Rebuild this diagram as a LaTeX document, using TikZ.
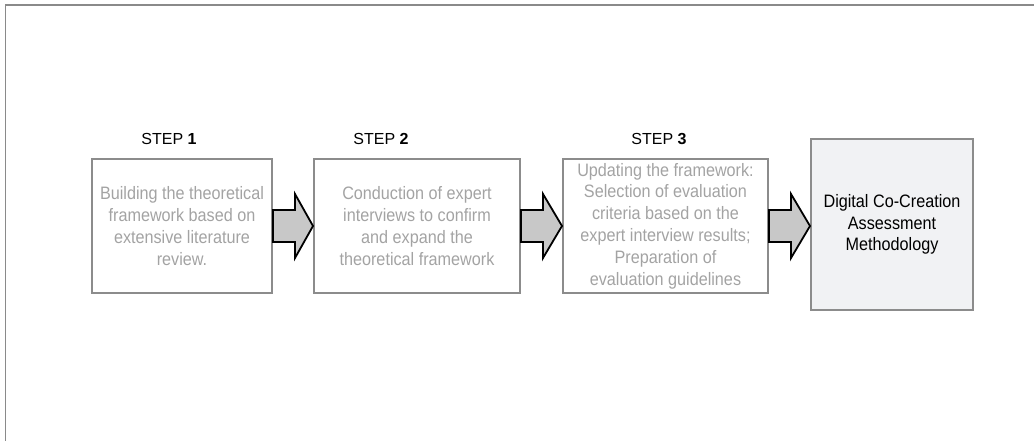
\documentclass[tikz,border=0pt]{standalone}
\usepackage{fontspec}
\setmainfont{Liberation Sans}
\newfontfamily\boxfont[FakeStretch=0.9]{Liberation Sans}
\usetikzlibrary{calc}
\definecolor{framegray}{HTML}{8A8A8A}
\definecolor{boxgray}{HTML}{8C8C8C}
\definecolor{txtgray}{HTML}{A3A3A3}
\definecolor{arrfill}{HTML}{C8C8C8}
\definecolor{resfill}{HTML}{F1F2F4}
\tikzset{
  stepbox/.style={draw=boxgray, line width=2pt, rectangle, inner sep=0pt, minimum height=134pt,
    align=center, text=txtgray, font=\boxfont\fontsize{18}{21.8}\selectfont},
  resultbox/.style={draw=boxgray, line width=2pt, rectangle, inner sep=0pt, fill=resfill,
    minimum width=162pt, minimum height=171pt, align=center, text=black,
    font=\boxfont\fontsize{18}{21.5}\selectfont},
  steplabel/.style={font=\fontsize{16}{18}\selectfont, inner sep=0pt},
  blockarr/.style={draw=black, fill=arrfill, line width=1.8pt, line join=miter},
}
\newcommand{\blockarrow}[2]{%
  \draw[blockarr] ($(#1.east)+(0,-16)$) -- ++(22,0) -- ++(0,-16) -- (#2.west |- #1.east)
    -- ($(#1.east)+(22,32)$) -- ++(0,-16) -- ($(#1.east)+(0,16)$) -- cycle;}
\begin{document}
\begin{tikzpicture}[x=1pt, y=-1pt]
\useasboundingbox (0,0) rectangle (1034,441);
\draw[framegray, line width=1.8pt] (5.5,441) -- (5.5,5) -- (1034,5);

\node[stepbox, minimum width=180pt] (b1) at (182,226)
  {Building the theoretical\\framework based on\\extensive literature\\review.};
\node[stepbox, minimum width=206pt] (b2) at (417,226)
  {Conduction of expert\\interviews to confirm\\and expand the\\theoretical framework};
\node[stepbox, minimum width=205pt] (b3) at (665.5,226)
  {Updating the framework:\\Selection of evaluation\\criteria based on the\\expert interview results;\\Preparation of\\evaluation guidelines};
\node[resultbox] (b4) at (892,224.5)
  {Digital Co-Creation\\Assessment\\Methodology};

\node[steplabel] (s1) at (169,139) {STEP \textbf{1}};
\node[steplabel] (s2) at (381,139) {STEP \textbf{2}};
\node[steplabel] (s3) at (659,139) {STEP \textbf{3}};

\blockarrow{b1}{b2}
\blockarrow{b2}{b3}
\blockarrow{b3}{b4}
\end{tikzpicture}
\end{document}
